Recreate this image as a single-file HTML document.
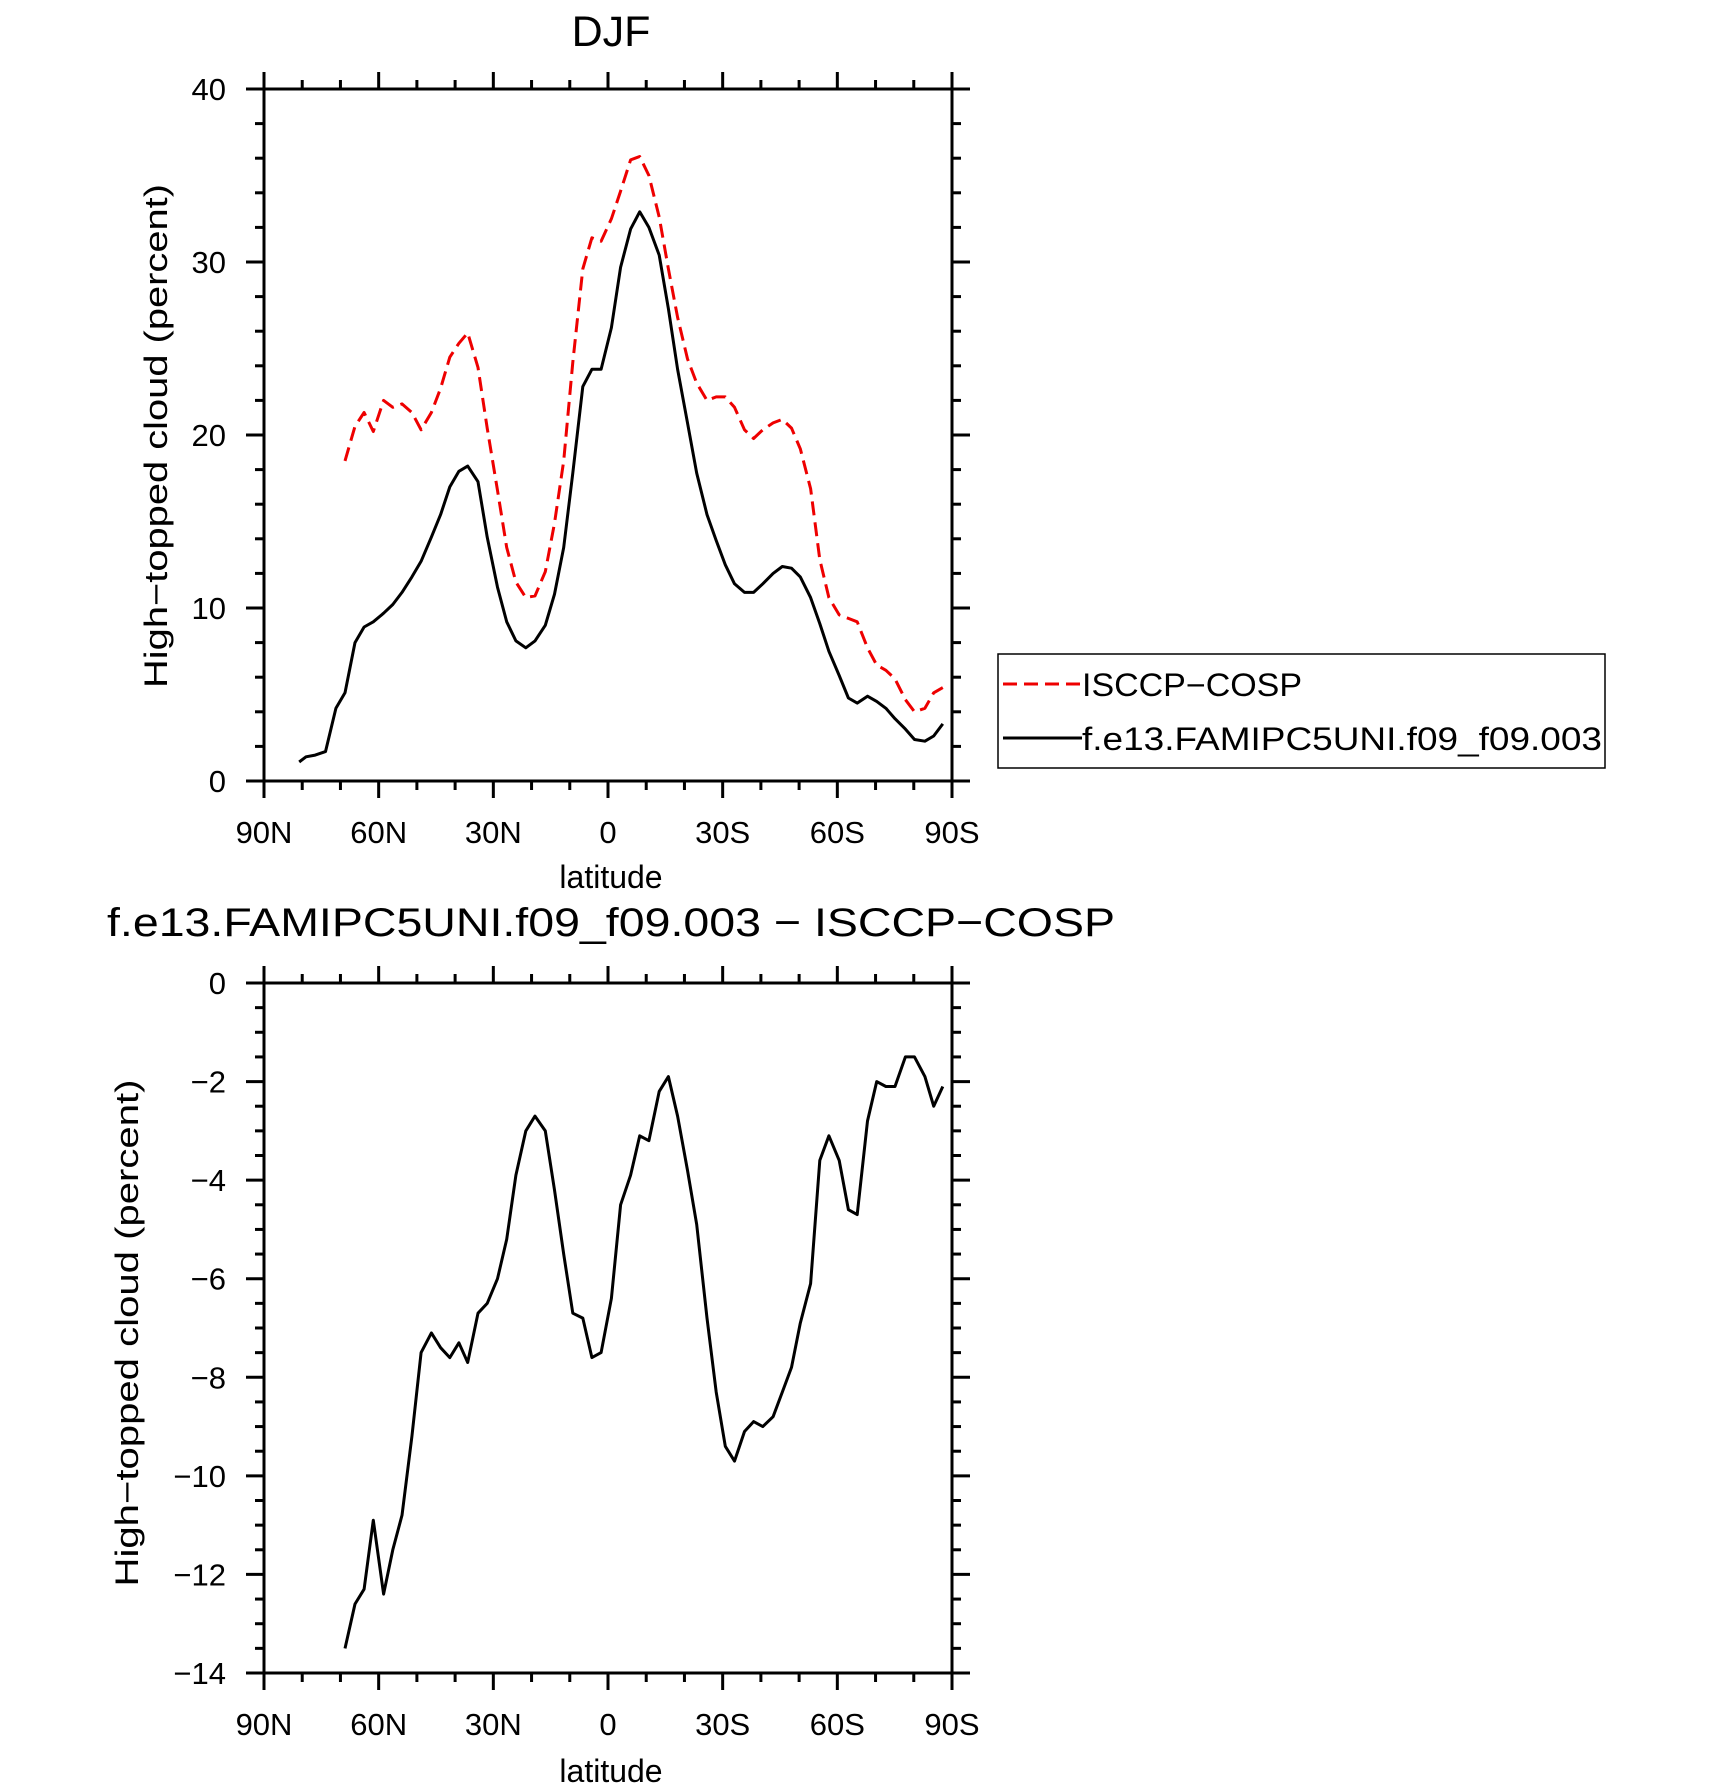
<!DOCTYPE html>
<html><head><meta charset="utf-8">
<style>
html,body{margin:0;padding:0;background:#fff;}
svg{display:block;}
text{font-family:"Liberation Sans",sans-serif;fill:#000;}
</style></head>
<body>
<svg id="chart" width="1710" height="1789" viewBox="0 0 1710 1789" xmlns="http://www.w3.org/2000/svg">
<text x="611" y="46" font-size="43" text-anchor="middle">DJF</text>
<text x="107" y="936" font-size="40" textLength="1008" lengthAdjust="spacingAndGlyphs">f.e13.FAMIPC5UNI.f09_f09.003 − ISCCP−COSP</text>
<text transform="translate(167,436) rotate(-90)" font-size="32" text-anchor="middle" textLength="504" lengthAdjust="spacingAndGlyphs">High−topped cloud (percent)</text>
<text transform="translate(138,1333) rotate(-90)" font-size="32" text-anchor="middle" textLength="507" lengthAdjust="spacingAndGlyphs">High−topped cloud (percent)</text>
<text x="611" y="888" font-size="32" text-anchor="middle">latitude</text>
<text x="611" y="1782" font-size="32" text-anchor="middle">latitude</text>
<g>
<rect x="998" y="654" width="607" height="114" fill="none" stroke="#000" stroke-width="1.5"/>
<line x1="1003" y1="684" x2="1082" y2="684" stroke="#e00" stroke-width="3" stroke-dasharray="14,7"/>
<text x="1082" y="696" font-size="32" textLength="220" lengthAdjust="spacingAndGlyphs">ISCCP−COSP</text>
<line x1="1003" y1="738" x2="1082" y2="738" stroke="#000" stroke-width="3"/>
<text x="1082" y="750" font-size="32" textLength="520" lengthAdjust="spacingAndGlyphs">f.e13.FAMIPC5UNI.f09_f09.003</text>
</g>
</svg>
<script>
const lats = [80.8,79.0,76.6,73.9,71.2,68.8,66.2,63.8,61.4,58.7,56.3,53.9,51.3,48.9,46.2,43.8,41.4,39.0,36.7,34.0,31.6,28.9,26.5,24.1,21.5,19.1,16.4,14.0,11.6,9.2,6.6,4.2,1.8,-0.9,-3.3,-5.9,-8.3,-10.7,-13.4,-15.8,-18.2,-20.8,-23.2,-25.9,-28.3,-30.7,-33.1,-35.7,-38.1,-40.5,-43.2,-45.6,-48.0,-50.3,-53.0,-55.4,-57.8,-60.5,-62.9,-65.2,-67.9,-70.3,-72.7,-75.1,-77.8,-80.2,-82.9,-85.2,-87.6];
const modelVals = [1.1,1.4,1.5,1.7,4.2,5.1,8.0,8.9,9.2,9.7,10.2,10.9,11.8,12.7,14.1,15.4,17.0,17.9,18.2,17.3,14.1,11.2,9.2,8.1,7.7,8.1,9.0,10.8,13.5,17.8,22.8,23.8,23.8,26.2,29.7,31.9,32.9,32.0,30.4,27.3,23.8,20.7,17.8,15.4,13.9,12.5,11.4,10.9,10.9,11.4,12.0,12.4,12.3,11.8,10.6,9.1,7.5,6.1,4.8,4.5,4.9,4.6,4.2,3.6,3.0,2.4,2.3,2.6,3.3];
const obsStart = 5;
const obsVals = [18.5,20.5,21.3,20.2,22.0,21.6,21.8,21.3,20.3,21.3,22.7,24.5,25.3,25.9,23.9,20.4,16.8,13.5,11.5,10.6,10.7,12.1,14.9,18.5,24.2,29.6,31.4,31.2,32.5,34.1,35.9,36.1,35.0,32.6,29.6,26.8,24.4,23.0,22.0,22.2,22.2,21.6,20.3,19.8,20.3,20.7,20.9,20.4,19.2,16.9,12.8,10.6,9.6,9.4,9.2,7.7,6.7,6.4,5.9,4.7,4.0,4.2,5.1,5.4];
const diffVals = [-13.5,-12.6,-12.3,-10.9,-12.4,-11.5,-10.8,-9.2,-7.5,-7.1,-7.4,-7.6,-7.3,-7.7,-6.7,-6.5,-6.0,-5.2,-3.9,-3.0,-2.7,-3.0,-4.2,-5.5,-6.7,-6.8,-7.6,-7.5,-6.4,-4.5,-3.9,-3.1,-3.2,-2.2,-1.9,-2.7,-3.8,-4.9,-6.8,-8.3,-9.4,-9.7,-9.1,-8.9,-9.0,-8.8,-8.3,-7.8,-6.9,-6.1,-3.6,-3.1,-3.6,-4.6,-4.7,-2.8,-2.0,-2.1,-2.1,-1.5,-1.5,-1.9,-2.5,-2.1];
const xTickVals = [90,60,30,0,-30,-60,-90];
const xTickLabels = ["90N","60N","30N","0","30S","60S","90S"];
const topYTicks = [0,10,20,30,40];
const botYTicks = [0,-2,-4,-6,-8,-10,-12,-14];
const botYLabels = ["0","−2","−4","−6","−8","−10","−12","−14"];

const NS = "http://www.w3.org/2000/svg";
const svg = document.getElementById("chart");
const X0 = 264, X1 = 952;
function xScale(lat){ return X0 + (90 - lat) / 180 * (X1 - X0); }
function mk(tag, attrs, parent){
  const e = document.createElementNS(NS, tag);
  for (const k in attrs) e.setAttribute(k, attrs[k]);
  (parent || svg).appendChild(e);
  return e;
}
function panel(name, yTop, yBot, vTop, vBot, majors, labels, minorStep){
  const ys = v => yTop + (vTop - v) / (vTop - vBot) * (yBot - yTop);
  const g = mk("g", {});
  
  
  const fr = mk("rect", {x:X0, y:yTop, width:X1-X0, height:yBot-yTop, fill:"none", stroke:"#000", "stroke-width":3}, g);
  
  
  for (let lat = 90; lat >= -90; lat -= 10) {
    const major = lat % 30 === 0;
    const L = major ? 17 : 9;
    const x = xScale(lat);
    const t1 = mk("line", {x1:x, x2:x, y1:yBot, y2:yBot+L, stroke:"#000", "stroke-width":3}, g);
    
    
    const t2 = mk("line", {x1:x, x2:x, y1:yTop, y2:yTop-L, stroke:"#000", "stroke-width":3}, g);
    
    
  }
  xTickVals.forEach((v, i) => {
    const t = mk("text", {x:xScale(v), y:yBot+62, "font-size":31, "text-anchor":"middle"}, g);
    t.textContent = xTickLabels[i];
    
    
  });
  const lo = Math.min(vTop, vBot), hi = Math.max(vTop, vBot);
  const n = Math.round((hi - lo) / minorStep);
  for (let i = 0; i <= n; i++) {
    const v = lo + i * minorStep;
    const major = majors.some(m => Math.abs(m - v) < 1e-6);
    const L = major ? 18 : 9;
    const y = ys(v);
    const a = mk("line", {x1:X0, x2:X0-L, y1:y, y2:y, stroke:"#000", "stroke-width":3}, g);
    
    
    const b = mk("line", {x1:X1, x2:X1+L, y1:y, y2:y, stroke:"#000", "stroke-width":3}, g);
    
    
  }
  majors.forEach((v, i) => {
    const t = mk("text", {x:226, y:ys(v)+11, "font-size":31, "text-anchor":"end"}, g);
    t.textContent = labels[i];
    
    
  });
  return ys;
}
function line(vals, start, ys, color, dash, name){
  const pts = vals.map((v, i) => xScale(lats[start + i]).toFixed(1) + "," + ys(v).toFixed(1)).join(" ");
  const p = mk("polyline", {points:pts, fill:"none", stroke:color, "stroke-width":3, "stroke-linejoin":"round"});
  if (dash) p.setAttribute("stroke-dasharray", dash);
  
  
}
const ysTop = panel("top", 89, 781, 40, 0, topYTicks, topYTicks.map(String), 2);
line(obsVals, obsStart, ysTop, "#e00", "14,7", "isccp-cosp-line");
line(modelVals, 0, ysTop, "#000", null, "model-line");
const ysBot = panel("bottom", 983, 1673, 0, -14, botYTicks, botYLabels, 0.5);
line(diffVals, obsStart, ysBot, "#000", null, "difference-line");
</script>
</body></html>
